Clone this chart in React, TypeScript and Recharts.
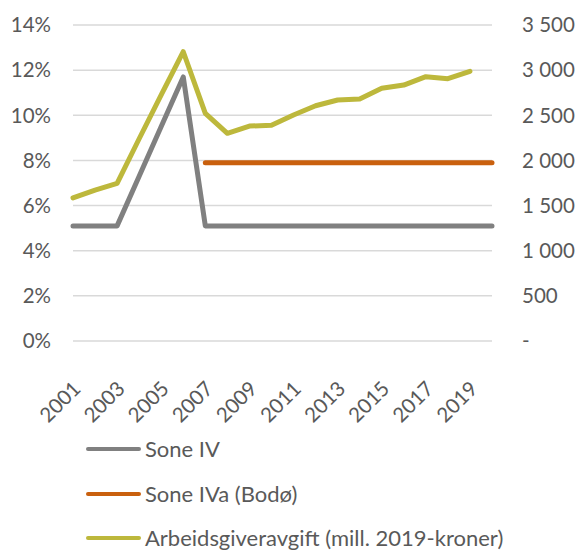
import React from "react";
import { ComposedChart, Line, XAxis, YAxis, CartesianGrid } from "recharts";

const years = [
  "2001", "2002", "2003", "2004", "2005", "2006", "2007", "2008", "2009", "2010",
  "2011", "2012", "2013", "2014", "2015", "2016", "2017", "2018", "2019", "2020",
];
const soneIV = [
  0.051, 0.051, 0.051, 0.073, 0.095, 0.117, 0.051, 0.051, 0.051, 0.051,
  0.051, 0.051, 0.051, 0.051, 0.051, 0.051, 0.051, 0.051, 0.051, 0.051,
];
const soneIVa = [
  null, null, null, null, null, null, 0.079, 0.079, 0.079, 0.079,
  0.079, 0.079, 0.079, 0.079, 0.079, 0.079, 0.079, 0.079, 0.079, 0.079,
];
const avgift = [
  1585, 1672, 1745, 2240, 2725, 3204, 2522, 2300, 2381, 2389,
  2503, 2606, 2669, 2680, 2799, 2835, 2928, 2905, 2987, null,
];
const leftTicks = [0, 0.02, 0.04, 0.06, 0.08, 0.1, 0.12, 0.14];
const rightTicks = [0, 500, 1000, 1500, 2000, 2500, 3000, 3500];

const data = years.map((y, i) => ({
  year: y,
  soneIV: soneIV[i],
  soneIVa: soneIVa[i],
  avgift: avgift[i],
}));

const FONT = "Lato, 'Open Sans', sans-serif";
const TEXT = "#595959";

const series = [
  { key: "soneIV", name: "Sone IV", color: "#808080", axis: 0 },
  { key: "soneIVa", name: "Sone IVa (Bodø)", color: "#c9600e", axis: 0 },
  { key: "avgift", name: "Arbeidsgiveravgift (mill. 2019-kroner)", color: "#bdb83c", axis: "right" },
];

const fmtRight = (v: number) => (v === 0 ? "-" : v.toLocaleString("en-US").replace(",", " "));

function YearTick(props: any) {
  const { x, y, payload } = props;
  const ax = x + 9;
  const ay = y + 41;
  return (
    <text
      x={ax}
      y={ay}
      transform={`rotate(-45, ${ax}, ${ay})`}
      textAnchor="end"
      fontSize={20.5}
      fontFamily={FONT}
      fill={TEXT}
    >
      {payload.value}
    </text>
  );
}

export default function App() {
  return (
    <div style={{ position: "absolute", left: 0, top: 0, width: 577, height: 551, background: "#fff", overflow: "hidden" }}>
      <ComposedChart width={577} height={551} data={data} margin={{ top: 25, right: 0, left: 0, bottom: 150 }}>
        <CartesianGrid vertical={false} stroke="#d9d9d9" strokeWidth={1.5} />
        <XAxis
          dataKey="year"
          axisLine={false}
          tickLine={false}
          interval={1}
          height={60}
          tick={<YearTick />}
        />
        <YAxis
          domain={[0, 0.14]}
          ticks={leftTicks}
          interval={0}
          width={73}
          axisLine={false}
          tickLine={false}
          tickFormatter={(v: number) => `${Math.round(v * 100)}%`}
          tick={{ fontSize: 20.5, fontFamily: FONT, fill: TEXT, dx: -14 }}
        />
        <YAxis
          yAxisId="right"
          orientation="right"
          domain={[0, 3500]}
          ticks={rightTicks}
          interval={0}
          width={85}
          axisLine={false}
          tickLine={false}
          tickFormatter={fmtRight}
          tick={{ fontSize: 20.5, fontFamily: FONT, fill: TEXT, dx: 22, textAnchor: "start" }}
        />
        {series.map((s) => (
          <Line
            key={s.key}
            yAxisId={s.axis}
            dataKey={s.key}
            name={s.name}
            stroke={s.color}
            strokeWidth={5}
            strokeLinecap="round"
            strokeLinejoin="round"
            dot={false}
            isAnimationActive={false}
          />
        ))}
      </ComposedChart>
      <div style={{ position: "absolute", left: 0, top: 427, fontFamily: FONT, fontSize: 22, color: TEXT }}>
        {series.map((s) => (
          <div key={s.key} style={{ display: "flex", alignItems: "center", height: 44.5 }}>
            <div style={{ width: 55, height: 4, borderRadius: 2, background: s.color, marginLeft: 86, marginRight: 4 }} />
            <span style={{ lineHeight: "22px" }}>{s.name}</span>
          </div>
        ))}
      </div>
    </div>
  );
}
